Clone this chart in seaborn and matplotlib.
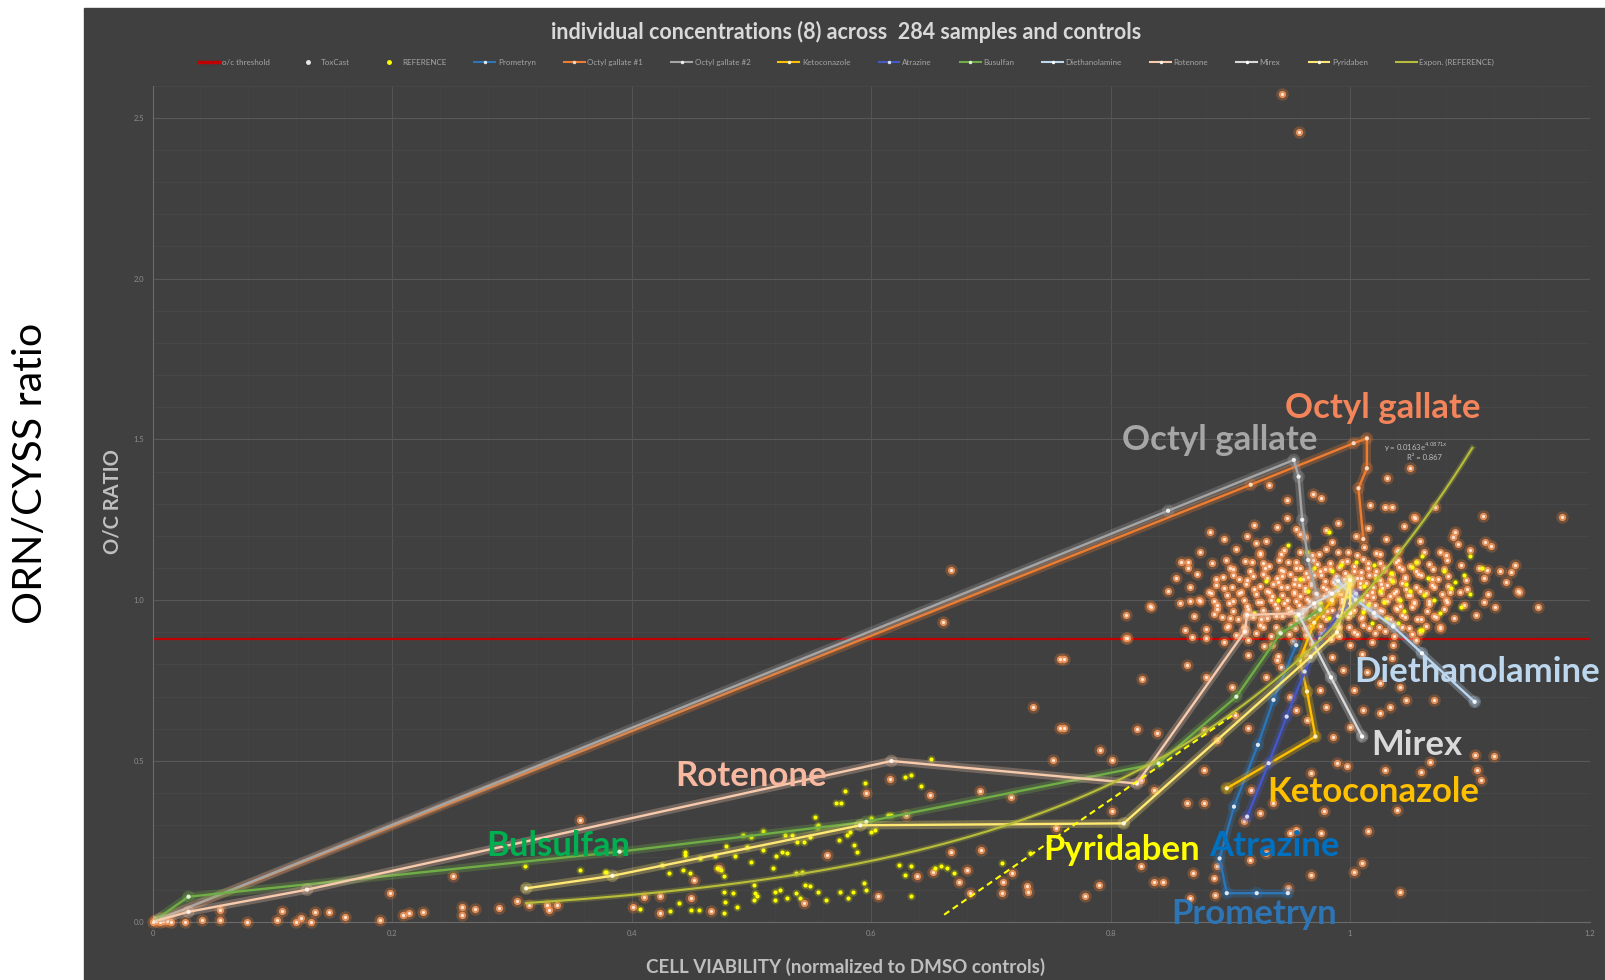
import numpy as np
import pandas as pd
import matplotlib
matplotlib.use("Agg")
import matplotlib.pyplot as plt
import matplotlib.patheffects as pe
from matplotlib.lines import Line2D
from matplotlib.patches import Rectangle
from matplotlib.ticker import MultipleLocator
import seaborn as sns

# ---------------------------------------------------------------- text
title = "individual concentrations (8) across  284 samples and controls"
x_label = "CELL VIABILITY (normalized to DMSO controls)"
y_label = "O/C RATIO"
side_label = "ORN/CYSS ratio"
x_ticks = [0.0, 0.2, 0.4, 0.6, 0.8, 1.0, 1.2]
x_tick_labels = ["0", "0.2", "0.4", "0.6", "0.8", "1", "1.2"]
y_ticks = [0.0, 0.5, 1.0, 1.5, 2.0, 2.5]
y_tick_labels = ["0.0", "0.5", "1.0", "1.5", "2.0", "2.5"]

# ---------------------------------------------------------------- values
threshold = 0.88

# exponential fit of the REFERENCE set, y = a * exp(b * x)
trend_a = 0.0163
trend_b = 4.0871
trend_r2 = 0.867
trend_x_start = 0.312
trend_x_end = 1.102

guide_x = [0.661, 0.905]
guide_y = [0.022, 0.650]

# ToxCast library (cell viability, O/C ratio)
toxcast_points = [
    (0.0, 0.0), (0.003, 0.002), (0.006, 0.0), (0.009, 0.004), (0.002, 0.006), (0.012, 0.001),
    (0.015, 0.0), (0.027, 0.0), (0.041, 0.006), (0.056, 0.006), (0.056, 0.037), (0.079, 0.0),
    (0.104, 0.006), (0.108, 0.035), (0.120, 0.0), (0.124, 0.011), (0.132, 0.0), (0.136, 0.029),
    (0.147, 0.029), (0.161, 0.014), (0.190, 0.006), (0.198, 0.089), (0.209, 0.021), (0.214, 0.026),
    (0.226, 0.029), (0.251, 0.141), (0.258, 0.021), (0.258, 0.047), (0.269, 0.039), (0.289, 0.044),
    (0.304, 0.065), (0.314, 0.052), (0.329, 0.052), (0.331, 0.037), (0.338, 0.052), (0.357, 0.317),
    (0.401, 0.047), (0.410, 0.078), (0.424, 0.080), (0.424, 0.027), (0.450, 0.073), (0.452, 0.130),
    (0.466, 0.035), (0.473, 0.167), (0.544, 0.058), (0.563, 0.208), (0.596, 0.400), (0.606, 0.080),
    (0.616, 0.443), (0.629, 0.332), (0.649, 0.395), (0.638, 0.141), (0.652, 0.156), (0.667, 0.218),
    (0.673, 0.125), (0.680, 0.161), (0.683, 0.089), (0.691, 0.408), (0.692, 0.223), (0.709, 0.089),
    (0.710, 0.125), (0.717, 0.389), (0.718, 0.151), (0.730, 0.110), (0.731, 0.094), (0.752, 0.503),
    (0.754, 0.291), (0.758, 0.602),
    (0.943, 2.573), (0.957, 2.455), (1.177, 1.258), (0.667, 1.095), (0.660, 0.933), (0.813, 0.955),
    (0.758, 0.818), (0.735, 0.669), (0.833, 0.981),
    (0.814, 0.883), (0.761, 0.816), (0.864, 0.799), (0.826, 0.754), (0.880, 0.760), (0.901, 0.731),
    (0.761, 0.604), (0.822, 0.599), (0.839, 0.588), (0.791, 0.534), (0.801, 0.503), (0.878, 0.597),
    (0.889, 0.565), (0.904, 0.643), (0.915, 0.602), (0.864, 0.369), (0.878, 0.369), (0.801, 0.343),
    (0.825, 0.441), (0.836, 0.410), (0.878, 0.472), (0.917, 0.410), (0.925, 0.338), (0.911, 0.312),
    (0.936, 0.369), (0.950, 0.275), (0.955, 0.286), (0.930, 0.213), (0.916, 0.193), (0.889, 0.172),
    (0.869, 0.151), (0.886, 0.135), (0.836, 0.125), (0.844, 0.125), (0.790, 0.115), (0.779, 0.079),
    (0.825, 0.172), (0.866, 0.073), (0.887, 0.084), (0.948, 0.104), (0.967, 0.146), (1.003, 0.156),
    (1.010, 0.182), (1.042, 0.094), (1.015, 0.281), (0.978, 0.343), (0.976, 0.275), (0.967, 0.462),
    (0.989, 0.493), (0.997, 0.483), (1.029, 0.472), (1.059, 0.467), (1.067, 0.498), (1.104, 0.519),
    (1.120, 0.514), (1.106, 0.472), (1.109, 0.441), (1.039, 0.348), (0.955, 0.659), (0.964, 0.628),
    (0.980, 0.669), (0.986, 0.576), (1.000, 0.607), (1.011, 0.659), (1.025, 0.648), (1.033, 0.669),
    (1.070, 0.690), (1.075, 0.918), (1.042, 0.731), (1.047, 0.690), (1.025, 0.742), (1.003, 0.721),
    (1.014, 0.778), (0.994, 0.783), (0.975, 0.721), (0.950, 0.700), (0.942, 0.793), (0.928, 0.856),
    (0.939, 0.814), (0.930, 0.762),
    (1.050, 1.410), (1.031, 1.379), (0.969, 1.329), (0.976, 1.319), (1.017, 1.296), (1.029, 1.289),
    (1.035, 1.289), (1.071, 1.291), (1.111, 1.262), (1.053, 1.258), (1.088, 1.213), (1.086, 1.196),
    (1.113, 1.182), (1.118, 1.169), (1.138, 1.110), (1.134, 1.089), (1.141, 1.024), (1.157, 0.978),
    (1.121, 0.978), (1.114, 1.094), (0.834, 0.978), (0.859, 1.120), (0.865, 1.120), (0.883, 1.213),
    (0.896, 1.125), (0.866, 0.996), (0.875, 0.996), (0.813, 0.882), (0.868, 0.885), (0.880, 0.882),
    (0.862, 0.908), (0.914, 1.198), (0.921, 1.177), (0.939, 1.229), (0.947, 1.255), (0.958, 1.205),
    (0.980, 1.218), (0.947, 1.312), (0.932, 1.358), (1.054, 1.255), (1.075, 1.151), (1.081, 1.125),
    (0.920, 1.235), (0.955, 1.220), (0.990, 1.240), (1.015, 1.225), (1.045, 1.230),
    (0.895, 1.190), (0.930, 1.185), (0.962, 1.195), (0.985, 1.180), (1.005, 1.200), (1.030, 1.190),
    (1.058, 1.185), (1.090, 1.175),
    (0.875, 1.150), (0.905, 1.160), (0.925, 1.145), (0.945, 1.155), (0.968, 1.140), (0.980, 1.160),
    (0.998, 1.150), (1.012, 1.165), (1.025, 1.145), (1.040, 1.155), (1.062, 1.150), (1.080, 1.140),
    (1.100, 1.155),
    (0.865, 1.100), (0.885, 1.115), (0.900, 1.100), (0.918, 1.120), (0.932, 1.105), (0.948, 1.118),
    (0.958, 1.100), (0.972, 1.112), (0.983, 1.098), (0.993, 1.120), (1.003, 1.105), (1.015, 1.115),
    (1.028, 1.100), (1.038, 1.120), (1.050, 1.105), (1.066, 1.112), (1.078, 1.098), (1.093, 1.110),
    (1.108, 1.100), (1.125, 1.090),
    (0.855, 1.070), (0.872, 1.080), (0.888, 1.065), (0.902, 1.078), (0.914, 1.062), (0.927, 1.080),
    (0.939, 1.068), (0.950, 1.082), (0.961, 1.065), (0.970, 1.078), (0.979, 1.060), (0.988, 1.075),
    (0.996, 1.085), (1.006, 1.068), (1.016, 1.078), (1.025, 1.062), (1.035, 1.080), (1.046, 1.070),
    (1.057, 1.082), (1.068, 1.065), (1.082, 1.075), (1.097, 1.062), (1.112, 1.070), (1.130, 1.058),
    (0.848, 1.030), (0.866, 1.040), (0.882, 1.025), (0.895, 1.038), (0.907, 1.022), (0.920, 1.035),
    (0.931, 1.028), (0.942, 1.042), (0.953, 1.025), (0.962, 1.038), (0.971, 1.022), (0.980, 1.035),
    (0.989, 1.045), (0.998, 1.028), (1.008, 1.040), (1.018, 1.025), (1.027, 1.038), (1.037, 1.022),
    (1.047, 1.035), (1.058, 1.028), (1.070, 1.040), (1.083, 1.025), (1.098, 1.035), (1.115, 1.020),
    (1.140, 1.030),
    (0.858, 0.990), (0.874, 1.000), (0.889, 0.985), (0.902, 0.998), (0.914, 0.982), (0.926, 0.995),
    (0.937, 0.988), (0.947, 1.002), (0.957, 0.985), (0.966, 0.998), (0.975, 0.980), (0.984, 0.995),
    (0.993, 1.005), (1.002, 0.988), (1.011, 1.000), (1.021, 0.985), (1.031, 0.998), (1.042, 0.982),
    (1.053, 0.995), (1.066, 0.988), (1.080, 1.000), (1.095, 0.985), (1.112, 0.995),
    (0.870, 0.950), (0.886, 0.958), (0.900, 0.944), (0.913, 0.955), (0.926, 0.940), (0.938, 0.952),
    (0.949, 0.962), (0.960, 0.945), (0.970, 0.958), (0.980, 0.942), (0.990, 0.955), (1.000, 0.965),
    (1.010, 0.948), (1.020, 0.960), (1.031, 0.944), (1.043, 0.955), (1.056, 0.940), (1.070, 0.952),
    (1.087, 0.945), (1.105, 0.955),
    (0.880, 0.910), (0.897, 0.918), (0.912, 0.905), (0.927, 0.915), (0.941, 0.900), (0.954, 0.912),
    (0.967, 0.920), (0.979, 0.905), (0.991, 0.915), (1.003, 0.900), (1.016, 0.912), (1.029, 0.905),
    (1.043, 0.918), (1.058, 0.902), (1.075, 0.912),
    (0.895, 0.870), (0.915, 0.875), (0.935, 0.862), (0.952, 0.872), (0.968, 0.865), (0.984, 0.878),
    (1.000, 0.860), (1.018, 0.870), (1.036, 0.862), (1.055, 0.875),
    (0.915, 0.830), (0.940, 0.825), (0.962, 0.835), (0.985, 0.822), (1.010, 0.832), (1.035, 0.820),
    (0.944, 1.090), (0.953, 1.050), (0.963, 1.085), (0.967, 1.048), (0.975, 1.092), (0.978, 1.012),
    (0.986, 1.058), (0.991, 1.018), (0.995, 1.065), (1.000, 1.048), (1.004, 1.012), (1.009, 1.088),
    (1.013, 1.052), (1.019, 1.010), (1.022, 1.092), (1.026, 1.050), (1.033, 1.012), (1.036, 1.060),
    (1.043, 1.098), (1.048, 1.015), (0.958, 1.012), (0.962, 0.972), (0.973, 0.970), (0.985, 0.968),
    (0.997, 0.975), (1.012, 0.972), (1.025, 0.970), (1.038, 0.975), (0.948, 0.975), (0.935, 1.012),
    (0.940, 1.055),
    (0.905, 0.893), (0.921, 0.897), (0.934, 0.889), (0.949, 0.895), (0.963, 0.891), (0.976, 0.898),
    (0.991, 0.888), (1.006, 0.894), (1.021, 0.899), (1.037, 0.890), (1.052, 0.896),
    (0.898, 0.921), (0.911, 0.915), (0.925, 0.922), (0.938, 0.917), (0.951, 0.924), (0.962, 0.914),
    (0.975, 0.921), (0.987, 0.926), (0.999, 0.916), (1.011, 0.923), (1.024, 0.917), (1.036, 0.925),
    (1.049, 0.914), (1.063, 0.921),
    (0.893, 0.947), (0.906, 0.941), (0.919, 0.948), (0.931, 0.943), (0.943, 0.950), (0.955, 0.939),
    (0.966, 0.946), (0.977, 0.952), (0.988, 0.941), (0.998, 0.948), (1.009, 0.943), (1.021, 0.951),
    (1.033, 0.940), (1.046, 0.947), (1.059, 0.942), (1.072, 0.949),
    (0.889, 0.972), (0.902, 0.967), (0.915, 0.974), (0.927, 0.968), (0.939, 0.976), (0.951, 0.966),
    (0.961, 0.973), (0.971, 0.978), (0.981, 0.967), (0.992, 0.974), (1.003, 0.969), (1.015, 0.977),
    (1.027, 0.966), (1.039, 0.972), (1.052, 0.978), (1.064, 0.967), (1.078, 0.973),
    (0.886, 0.997), (0.899, 0.992), (0.911, 0.999), (0.923, 0.993), (0.934, 1.001), (0.945, 0.991),
    (0.955, 0.998), (0.964, 1.003), (0.974, 0.992), (0.983, 0.999), (0.993, 0.994), (1.004, 1.002),
    (1.016, 0.991), (1.028, 0.997), (1.040, 1.003), (1.053, 0.992), (1.066, 0.998), (1.081, 0.993),
    (0.884, 1.022), (0.897, 1.017), (0.909, 1.024), (0.921, 1.018), (0.932, 1.026), (0.943, 1.016),
    (0.953, 1.023), (0.962, 1.028), (0.972, 1.017), (0.982, 1.024), (0.992, 1.019), (1.003, 1.027),
    (1.014, 1.016), (1.026, 1.022), (1.038, 1.028), (1.050, 1.017), (1.063, 1.023), (1.077, 1.018),
    (1.092, 1.024),
    (0.888, 1.047), (0.901, 1.042), (0.913, 1.049), (0.925, 1.043), (0.936, 1.051), (0.947, 1.041),
    (0.957, 1.048), (0.967, 1.053), (0.977, 1.042), (0.987, 1.049), (0.997, 1.044), (1.008, 1.052),
    (1.019, 1.041), (1.031, 1.047), (1.043, 1.053), (1.055, 1.042), (1.068, 1.048), (1.082, 1.043),
    (0.894, 1.072), (0.907, 1.067), (0.919, 1.074), (0.931, 1.068), (0.943, 1.076), (0.954, 1.066),
    (0.965, 1.073), (0.976, 1.078), (0.987, 1.067), (0.998, 1.074), (1.009, 1.069), (1.021, 1.077),
    (1.033, 1.066), (1.046, 1.072), (1.059, 1.078), (1.073, 1.067),
    (0.902, 1.097), (0.916, 1.092), (0.929, 1.099), (0.942, 1.093), (0.955, 1.101), (0.967, 1.091),
    (0.979, 1.098), (0.991, 1.103), (1.003, 1.092), (1.015, 1.099), (1.028, 1.094), (1.041, 1.102),
    (1.055, 1.091), (1.069, 1.097),
    (0.912, 1.122), (0.927, 1.117), (0.941, 1.124), (0.955, 1.118), (0.969, 1.126), (0.983, 1.116),
    (0.997, 1.123), (1.011, 1.128), (1.025, 1.117), (1.040, 1.124), (1.056, 1.119),
    (0.925, 1.147), (0.942, 1.142), (0.958, 1.149), (0.974, 1.143), (0.990, 1.151), (1.006, 1.141),
    (1.022, 1.148), (1.039, 1.153),
]

# reference compounds (cell viability, O/C ratio)
reference_points = [
    (0.311, 0.175), (0.357, 0.161), (0.378, 0.156), (0.379, 0.156), (0.407, 0.039), (0.425, 0.177),
    (0.431, 0.151), (0.432, 0.032), (0.440, 0.058), (0.445, 0.218), (0.445, 0.208), (0.443, 0.161),
    (0.449, 0.151), (0.450, 0.037), (0.456, 0.037), (0.457, 0.198), (0.470, 0.203), (0.471, 0.167),
    (0.475, 0.161), (0.477, 0.141), (0.477, 0.094), (0.478, 0.063), (0.477, 0.027), (0.479, 0.236),
    (0.485, 0.089), (0.486, 0.203), (0.488, 0.047), (0.493, 0.270), (0.496, 0.234), (0.500, 0.265),
    (0.500, 0.187), (0.502, 0.115), (0.502, 0.068), (0.503, 0.089), (0.505, 0.079), (0.510, 0.281),
    (0.510, 0.223), (0.518, 0.167), (0.520, 0.094), (0.520, 0.068), (0.521, 0.203), (0.524, 0.099),
    (0.526, 0.218), (0.528, 0.270), (0.530, 0.213), (0.530, 0.073), (0.534, 0.270), (0.537, 0.151),
    (0.537, 0.089), (0.538, 0.249), (0.541, 0.073), (0.542, 0.156), (0.544, 0.249), (0.545, 0.115),
    (0.549, 0.265), (0.549, 0.110), (0.553, 0.327), (0.555, 0.296), (0.556, 0.301), (0.556, 0.094),
    (0.562, 0.068), (0.571, 0.369), (0.573, 0.255), (0.574, 0.094), (0.575, 0.369), (0.578, 0.408),
    (0.580, 0.270), (0.581, 0.073), (0.582, 0.280), (0.585, 0.094), (0.586, 0.239), (0.588, 0.218),
    (0.594, 0.120), (0.595, 0.431), (0.596, 0.099), (0.600, 0.322), (0.600, 0.280), (0.603, 0.286),
    (0.614, 0.332), (0.617, 0.332), (0.623, 0.177), (0.628, 0.451), (0.628, 0.146), (0.633, 0.457),
    (0.633, 0.172), (0.633, 0.079), (0.642, 0.423), (0.650, 0.505), (0.653, 0.167), (0.658, 0.172),
    (0.663, 0.167), (0.669, 0.151), (0.709, 0.182), (0.733, 0.213),
    (0.964, 1.151), (0.982, 1.213), (1.060, 1.136), (1.100, 1.136), (1.095, 1.079), (1.052, 1.104),
    (1.084, 1.037), (1.060, 0.908), (1.093, 0.980), (1.042, 1.001), (1.008, 1.001), (0.990, 1.040),
    (1.000, 1.070), (1.015, 0.985), (1.025, 1.030), (1.035, 1.060), (1.045, 0.965), (0.975, 0.990),
    (0.985, 1.090), (1.020, 1.110), (1.030, 0.940), (1.050, 1.030), (1.070, 1.000), (1.065, 1.070),
    (0.995, 0.960), (1.012, 1.045), (0.965, 1.030), (0.955, 0.950), (1.040, 0.930), (1.075, 0.960),
    (1.005, 1.120), (0.970, 1.100), (1.018, 0.930), (0.940, 1.000), (0.930, 1.060), (1.055, 1.120),
    (0.948, 1.170), (1.110, 1.100), (1.100, 1.020), (0.920, 0.960), (1.058, 0.907),
    (0.998, 1.010), (1.028, 0.995), (1.062, 1.015), (1.078, 1.090), (1.034, 1.085), (0.982, 0.945),
    (1.011, 0.962), (1.047, 1.050), (1.088, 1.058), (0.992, 1.110), (0.958, 1.065), (1.022, 1.065),
]

# eight-concentration series per test compound
prometryn_x = [0.948, 0.922, 0.897, 0.891, 0.903, 0.923, 0.936, 0.955]
prometryn_y = [0.089, 0.089, 0.089, 0.197, 0.358, 0.550, 0.690, 0.860]
octyl1_x = [0.000, 0.008, 0.917, 1.003, 1.014, 1.014, 1.007, 1.011]
octyl1_y = [0.000, 0.012, 1.359, 1.488, 1.503, 1.410, 1.348, 1.190]
octyl2_x = [0.000, 0.006, 0.848, 0.953, 0.957, 0.960, 0.965, 0.972]
octyl2_y = [0.000, 0.009, 1.278, 1.436, 1.384, 1.250, 1.125, 1.020]
keto_x = [0.897, 0.971, 0.964, 0.958, 0.970, 0.985, 0.990, 1.000]
keto_y = [0.415, 0.576, 0.716, 0.814, 0.930, 1.000, 1.030, 1.050]
atrazine_x = [0.914, 0.932, 0.947, 0.962, 0.975, 0.990, 1.000, 1.005]
atrazine_y = [0.327, 0.493, 0.638, 0.778, 0.880, 0.950, 0.990, 1.020]
busulfan_x = [0.000, 0.030, 0.390, 0.596, 0.840, 0.905, 0.942, 0.975]
busulfan_y = [0.000, 0.078, 0.218, 0.311, 0.493, 0.700, 0.897, 0.970]
dea_x = [0.990, 1.005, 1.020, 1.036, 1.060, 1.104]
dea_y = [1.060, 1.000, 0.960, 0.918, 0.835, 0.684]
rotenone_x = [0.000, 0.030, 0.129, 0.617, 0.822, 0.912, 0.914, 0.960]
rotenone_y = [0.000, 0.031, 0.100, 0.500, 0.430, 0.902, 0.954, 0.960]
mirex_x = [1.000, 0.985, 0.970, 0.957, 0.984, 1.010]
mirex_y = [1.060, 1.020, 0.990, 0.955, 0.760, 0.576]
pyridaben_x = [0.312, 0.384, 0.591, 0.811, 0.967, 0.989, 1.000, 1.000]
pyridaben_y = [0.104, 0.143, 0.300, 0.306, 0.824, 0.900, 1.063, 0.960]

# ---------------------------------------------------------------- style
BG = "#404040"
plt.rcParams["font.family"] = ["Lato", "DejaVu Sans"]

W, H = 1606, 980
fig = plt.figure(figsize=(W / 100, H / 100), dpi=100)
fig.patch.set_facecolor("white")
fig.add_artist(Rectangle((84 / W, 0), 1 - 84 / W, (H - 8) / H,
                         transform=fig.transFigure, color=BG, zorder=0))

ax = fig.add_axes([0.0950, 0.0594, 0.8948, 0.8533])
ax.set_facecolor(BG)

# threshold
ax.axhline(threshold, color="#C00000", lw=1.6, zorder=2)

# ToxCast cloud: orange glow with pale core
tox = pd.DataFrame(toxcast_points, columns=["viability", "ratio"])
for size, col, alpha in ((80, "#ED7D31", 0.28), (27, "#F39A60", 0.88), (5, "#FFE9DA", 1.0)):
    sns.scatterplot(data=tox, x="viability", y="ratio", s=size, color=col, alpha=alpha,
                    linewidth=0, ax=ax, legend=False, zorder=3)
    ax.collections[-1].set_clip_on(False)

# REFERENCE compounds
ref = pd.DataFrame(reference_points, columns=["viability", "ratio"])
for size, col, alpha in ((34, "#D4E000", 0.25), (9, "#FFFF00", 1.0)):
    sns.scatterplot(data=ref, x="viability", y="ratio", s=size, color=col, alpha=alpha,
                    linewidth=0, ax=ax, legend=False, zorder=4)

# compound series
series = [
    ("Prometryn", prometryn_x, prometryn_y, "#2E75B6", "#DDE8F5"),
    ("Octyl gallate #1", octyl1_x, octyl1_y, "#ED7D31", "#FFD9BF"),
    ("Octyl gallate #2", octyl2_x, octyl2_y, "#A5A5A5", "#EEEEEE"),
    ("Ketoconazole", keto_x, keto_y, "#FFC000", "#FFF0C0"),
    ("Atrazine", atrazine_x, atrazine_y, "#4458C8", "#D8DDF5"),
    ("Busulfan", busulfan_x, busulfan_y, "#70AD47", "#E5F2D9"),
    ("Diethanolamine", dea_x, dea_y, "#BDD7EE", "#F2F8FD"),
    ("Rotenone", rotenone_x, rotenone_y, "#F8CBAD", "#FFF2EA"),
    ("Mirex", mirex_x, mirex_y, "#D9D9D9", "#FFFFFF"),
    ("Pyridaben", pyridaben_x, pyridaben_y, "#FFE873", "#FFFBE0"),
]
for name, xs, ys, col, core in series:
    d = pd.DataFrame({"viability": xs, "ratio": ys})
    sns.lineplot(data=d, x="viability", y="ratio", sort=False, estimator=None, ax=ax,
                 color=col, lw=1.7, marker="o", markersize=3.0, markerfacecolor=core,
                 markeredgewidth=0, legend=False, zorder=5,
                 path_effects=[pe.Stroke(linewidth=6, foreground=col, alpha=0.28), pe.Normal()])

# exponential trend of the REFERENCE set
trend_x = np.linspace(trend_x_start, trend_x_end, 200)
trend_y = trend_a * np.exp(trend_b * trend_x)
sns.lineplot(x=trend_x, y=trend_y, ax=ax, color="#B9BE3A", lw=1.5, legend=False, zorder=5,
             path_effects=[pe.Stroke(linewidth=4, foreground="#B9BE3A", alpha=0.25), pe.Normal()])
ax.text(1.055, 1.474, f"y = {trend_a}e$^{{{trend_b}x}}$", fontsize=5.5, color="#bfbfbf",
        ha="center", va="center", zorder=8)
ax.text(1.062, 1.443, f"R² = {trend_r2}", fontsize=5.5, color="#bfbfbf",
        ha="center", va="center", zorder=8)

# dashed guide
sns.lineplot(x=guide_x, y=guide_y, ax=ax, color="#FFFF00", lw=1.5, legend=False, zorder=6,
             linestyle=(0, (3, 2)))

# axes styling (after seaborn, which sets its own axis labels)
ax.set_xlim(0, 1.2)
ax.set_ylim(0, 2.6)
ax.set_xticks(x_ticks)
ax.set_xticklabels(x_tick_labels)
ax.set_yticks(y_ticks)
ax.set_yticklabels(y_tick_labels)
ax.yaxis.set_minor_locator(MultipleLocator(0.1))
ax.xaxis.set_minor_locator(MultipleLocator(0.04))
ax.tick_params(which="both", length=0, labelsize=5.5, labelcolor="#8c8c8c", pad=6)
ax.grid(which="major", axis="y", color="#585858", lw=0.8)
ax.grid(which="major", axis="x", color="#545454", lw=0.7)
ax.grid(which="minor", axis="y", color="#4a4a4a", lw=0.5)
ax.grid(which="minor", axis="x", color="#464646", lw=0.4)
ax.set_axisbelow(True)
for side in ("top", "right"):
    ax.spines[side].set_visible(False)
for side in ("left", "bottom"):
    ax.spines[side].set_color("#6a6a6a")
    ax.spines[side].set_linewidth(0.8)
ax.set_xlabel("")
ax.set_ylabel("")

# compound labels
labels = [
    ("Octyl gallate", 1.027, 1.599, "#F4845A"),
    ("Octyl gallate", 0.891, 1.497, "#A6A6A6"),
    ("Diethanolamine", 1.106, 0.777, "#BDD7EE"),
    ("Mirex", 1.056, 0.551, "#D9D9D9"),
    ("Ketoconazole", 1.019, 0.405, "#FFC000"),
    ("Rotenone", 0.4996, 0.452, "#F8B9A0"),
    ("Bulsulfan", 0.339, 0.236, "#00B050"),
    ("Pyridaben", 0.809, 0.223, "#FFFF00"),
    ("Atrazine", 0.937, 0.236, "#0070C0"),
    ("Prometryn", 0.920, 0.025, "#2E75B6"),
]
for txt, lx, ly, col in labels:
    ax.text(lx, ly, txt, color=col, fontsize=25, fontweight="bold",
            ha="center", va="center", zorder=9)

# legend row
handles = [
    Line2D([], [], color="#C00000", lw=2.5),
    Line2D([], [], ls="", marker="o", ms=2.5, color="#E8E8E8"),
    Line2D([], [], ls="", marker="o", ms=2.5, color="#FFFF00"),
]
handles += [Line2D([], [], color=c, lw=1.5, marker="o", ms=2.5, markerfacecolor=k,
                   markeredgewidth=0) for _, _, _, c, k in series]
handles.append(Line2D([], [], color="#B9BE3A", lw=1.5))
legend_labels = ["o/c threshold", "ToxCast", "REFERENCE"] + [s[0] for s in series] + ["Expon. (REFERENCE)"]
fig.legend(handles, legend_labels, loc="center", bbox_to_anchor=(0.527, 0.936), ncol=len(handles),
           frameon=False, fontsize=5.8, labelcolor="#a6a6a6", handlelength=2.6,
           handletextpad=0.3, columnspacing=3.5)

# titles
fig.text(0.5268, 0.9676, title, ha="center", va="center", fontsize=15.5,
         fontweight="bold", color="#d9d9d9")
fig.text(0.5268, 0.0134, x_label, ha="center", va="center", fontsize=13.5,
         fontweight="bold", color="#bfbfbf")
fig.text(0.0701, 0.4879, y_label, ha="center", va="center", rotation=90, fontsize=14.5,
         fontweight="bold", color="#bfbfbf")
fig.text(0.0191, 0.5171, side_label, ha="center", va="center", rotation=90, fontsize=29.7,
         color="black")

fig.savefig("out.png", dpi=100, facecolor=fig.get_facecolor())
